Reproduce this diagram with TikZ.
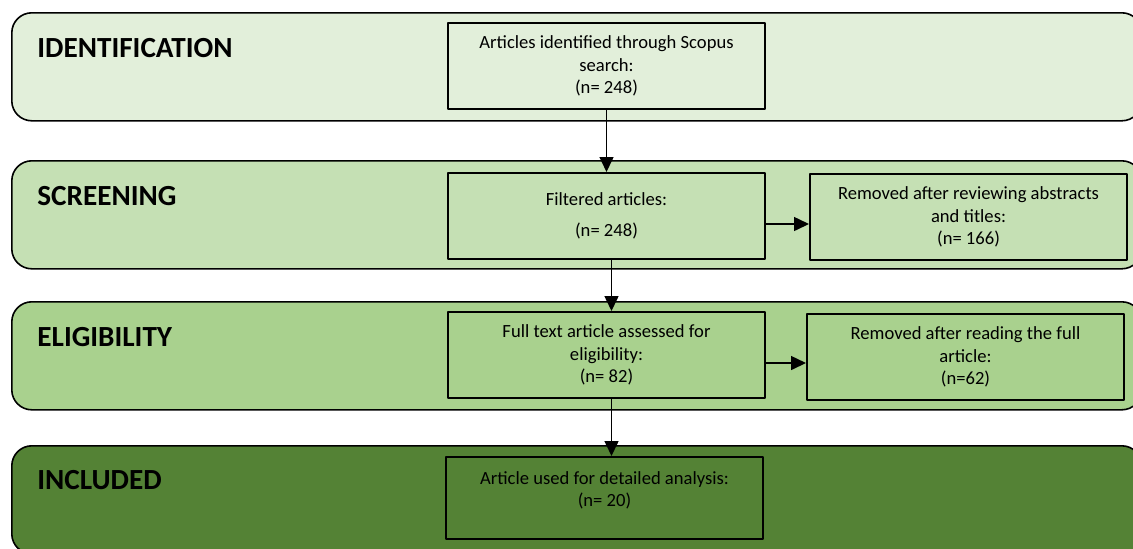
\documentclass[tikz,border=0pt]{standalone}
\usepackage{fontspec}
\setmainfont{Carlito}
\usetikzlibrary{arrows.meta}
\definecolor{identc}{HTML}{E2EFDA}
\definecolor{screenc}{HTML}{C5E0B4}
\definecolor{eligc}{HTML}{A9D18E}
\definecolor{inclc}{HTML}{548235}
\begin{document}
\begin{tikzpicture}[x=0.5pt, y=-0.5pt, line join=round, >={Triangle[width=7pt,length=7.5pt]},
	band/.style={draw, rounded corners=10pt, line width=0.8pt, minimum width=565pt, minimum height=54pt, anchor=north west, inner sep=0pt},
	stage/.style={anchor=base west, inner sep=0pt, font=\fontsize{14.6}{17}\selectfont\bfseries},
	box/.style={draw, line width=1pt, minimum width=158.5pt, minimum height=43pt, anchor=north west, align=center, inner sep=2pt, font=\fontsize{9.3}{11.2}\selectfont},
	link/.style={->, line width=0.75pt}]
	\useasboundingbox (0,0) rectangle (1133,548);
	\clip (0,0) rectangle (1133,548);
	% bands
	\node[band, fill=identc] (identband) at (11,12) {};
	\node[band, fill=screenc] (screenband) at (11,160) {};
	\node[band, fill=eligc] (eligband) at (11,301) {};
	\node[band, fill=inclc] (inclband) at (11,445) {};
	\node[stage] (identtitle) at (37,57) {IDENTIFICATION};
	\node[stage] (screentitle) at (37,205) {SCREENING};
	\node[stage] (eligtitle) at (37,346) {ELIGIBILITY};
	\node[stage] (incltitle) at (37,489) {INCLUDED};
	% boxes
	\node[box] (found) at (447,22) {Articles identified through Scopus\\search:\\(n= 248)};
	\node[box] (filtered) at (447,172) {Filtered articles:\\[4pt](n= 248)};
	\node[box] (removedA) at (809,173) {Removed after reviewing abstracts\\and titles:\\(n= 166)};
	\node[box] (fulltext) at (447,311) {Full text article assessed for\\eligibility:\\(n= 82)};
	\node[box] (removedB) at (806,313) {Removed after reading the full\\article:\\(n=62)};
	\node[box, minimum height=41pt] (used) at (445,456) {Article used for detailed analysis:\\(n= 20)\\[-2pt]};
	% arrows
	\draw[link] (found.south) -- (filtered.north);
	\draw[link] ([xshift=2.5pt]filtered.south) -- ([xshift=2.5pt]fulltext.north);
	\draw[link] ([xshift=2.5pt]fulltext.south) -- ([xshift=2.5pt]fulltext.south |- used.north);
	\draw[link] ([yshift=-4pt]filtered.east) -- ([yshift=-4pt]filtered.east -| removedA.west);
	\draw[link] ([yshift=-4pt]fulltext.east) -- ([yshift=-4pt]fulltext.east -| removedB.west);
\end{tikzpicture}
\end{document}
